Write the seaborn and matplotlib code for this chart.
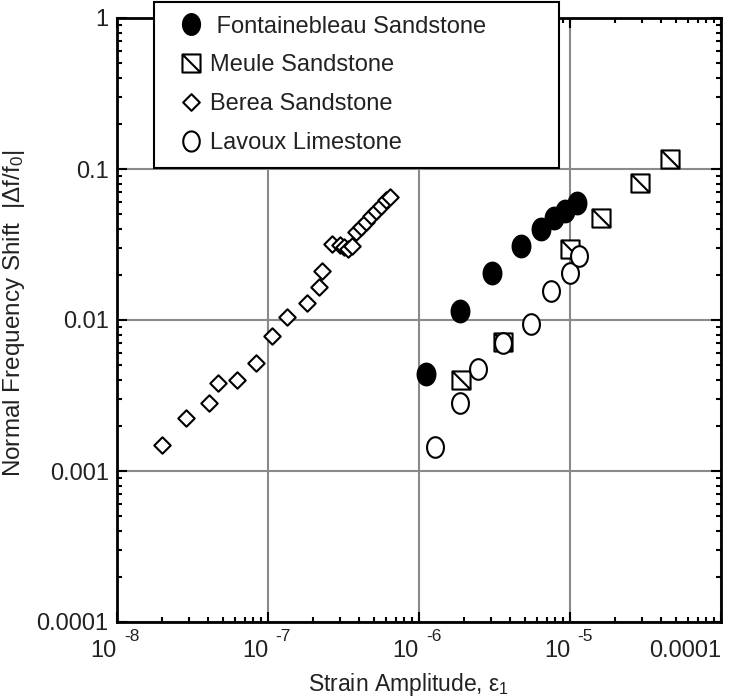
import numpy as np
import pandas as pd
import matplotlib
matplotlib.use("Agg")
import matplotlib.pyplot as plt
from matplotlib.path import Path
from matplotlib.lines import Line2D
from matplotlib.ticker import LogLocator, NullFormatter
import seaborn as sns

# ---------------- data ----------------
berea_x = [2.0e-8, 2.88e-8, 4.06e-8, 4.69e-8, 6.27e-8, 8.3e-8, 1.07e-7, 1.34e-7,
           1.82e-7, 2.18e-7, 2.27e-7, 2.67e-7, 3.0e-7, 3.18e-7, 3.39e-7, 3.6e-7,
           3.83e-7, 4.13e-7, 4.46e-7, 4.81e-7, 5.19e-7, 5.6e-7, 6.04e-7, 6.42e-7]
berea_y = [1.49e-3, 2.25e-3, 2.81e-3, 3.81e-3, 4.01e-3, 5.21e-3, 7.87e-3, 1.04e-2,
           1.30e-2, 1.66e-2, 2.12e-2, 3.17e-2, 3.14e-2, 3.04e-2, 2.95e-2, 3.09e-2,
           3.83e-2, 4.13e-2, 4.46e-2, 4.89e-2, 5.27e-2, 5.69e-2, 6.24e-2, 6.53e-2]

font_x = [1.11e-6, 1.87e-6, 3.06e-6, 4.76e-6, 6.4e-6, 7.84e-6, 9.22e-6, 1.11e-5]
font_y = [4.36e-3, 1.15e-2, 2.04e-2, 3.10e-2, 4.01e-2, 4.72e-2, 5.30e-2, 5.93e-2]

meule_x = [1.89e-6, 3.61e-6, 9.95e-6, 1.61e-5, 2.9e-5, 4.59e-5]
meule_y = [4.01e-3, 7.18e-3, 2.94e-2, 4.75e-2, 8.04e-2, 0.116]

lavoux_x = [1.27e-6, 1.87e-6, 2.47e-6, 3.61e-6, 5.52e-6, 7.45e-6, 1.0e-5, 1.15e-5]
lavoux_y = [1.44e-3, 2.83e-3, 4.71e-3, 7.08e-3, 9.41e-3, 1.56e-2, 2.06e-2, 2.65e-2]

series_names = [" Fontainebleau Sandstone", "Meule Sandstone", "Berea Sandstone", "Lavoux Limestone"]
x_ticks = [1e-8, 1e-7, 1e-6, 1e-5, 1e-4]
x_tick_labels = ["10", "10", "10", "10", "0.0001"]
x_tick_exponents = ["-8", "-7", "-6", "-5", ""]
y_ticks = [1e-4, 1e-3, 1e-2, 1e-1, 1]
y_tick_labels = ["0.0001", "0.001", "0.01", "0.1", "1"]

# ---------------- style ----------------
sns.set_theme(style="white")
plt.rcParams['font.family'] = ['Liberation Sans', 'DejaVu Sans']
plt.rcParams['mathtext.fontset'] = 'custom'
plt.rcParams['mathtext.rm'] = 'Liberation Sans'
plt.rcParams['mathtext.it'] = 'Liberation Sans'
TXT = '#222222'

FS = 17

# marker paths
t = np.linspace(0, 2 * np.pi, 60)
ellipse = Path(np.column_stack([0.82 * np.cos(t), np.sin(t)]), closed=True)
sq_verts = [(-1, -1), (1, -1), (1, 1), (-1, 1), (-1, -1), (-1, 1), (1, -1)]
sq_codes = [Path.MOVETO, Path.LINETO, Path.LINETO, Path.LINETO, Path.CLOSEPOLY,
            Path.MOVETO, Path.LINETO]
square_diag = Path(sq_verts, sq_codes)
diamond = Path([(0, 1), (1, 0), (0, -1), (-1, 0), (0, 1)],
               [Path.MOVETO, Path.LINETO, Path.LINETO, Path.LINETO, Path.CLOSEPOLY])

fig = plt.figure(figsize=(7.38, 6.98), dpi=100)
ax = fig.add_axes([117 / 738, (698 - 622) / 698, 604 / 738, 604 / 698])
ax.set_xscale("log")
ax.set_yscale("log")
ax.set_xlim(1e-8, 1e-4)
ax.set_ylim(1e-4, 1)

ax.grid(True, which="major", color="#8a8a8a", linewidth=1.5, zorder=0)
ax.set_axisbelow(True)

ew = 1.5
sns.scatterplot(x=berea_x, y=berea_y, ax=ax, marker=diamond, s=140,
                facecolor="white", edgecolor="black", linewidth=ew, zorder=3)
sns.scatterplot(x=font_x, y=font_y, ax=ax, marker=ellipse, s=245,
                facecolor="black", edgecolor="black", linewidth=ew, zorder=3)
sns.scatterplot(x=meule_x, y=meule_y, ax=ax, marker=square_diag, s=170,
                facecolor="white", edgecolor="black", linewidth=ew, zorder=3)
sns.scatterplot(x=lavoux_x, y=lavoux_y, ax=ax, marker=ellipse, s=220,
                facecolor="white", edgecolor="black", linewidth=ew, zorder=3)

# ticks
ax.set_xticks(x_ticks)
ax.set_xticklabels(x_tick_labels)
ax.set_yticks(y_ticks)
ax.set_yticklabels(y_tick_labels)
ax.xaxis.set_minor_locator(LogLocator(base=10, subs=np.arange(2, 10), numticks=20))
ax.yaxis.set_minor_locator(LogLocator(base=10, subs=np.arange(2, 10), numticks=20))
ax.xaxis.set_minor_formatter(NullFormatter())
ax.yaxis.set_minor_formatter(NullFormatter())
ax.tick_params(which="both", direction="in", top=True, right=True, bottom=True, left=True,
               color="black", labelsize=FS, labelcolor=TXT)
ax.tick_params(which="major", length=7, width=1.5)
ax.tick_params(axis="y", which="major", pad=6)
ax.tick_params(axis="x", which="major", pad=13)
ax.tick_params(which="minor", length=3.6, width=1.5)
for lab in ax.get_xticklabels():
    lab.set_ha("right")

# exponents next to the "10" bases
for xt, ex in zip(x_ticks, x_tick_exponents):
    if ex:
        ax.annotate(ex, xy=(xt, 0), xycoords=("data", "axes fraction"),
                    xytext=(5.5, -5), textcoords="offset points",
                    ha="left", va="top", fontsize=12.5, color=TXT)

for sp in ax.spines.values():
    sp.set_color("black")
    sp.set_linewidth(2)

ax.set_xlabel(r"Strain Amplitude, ε$_{\mathregular{1}}$", fontsize=16.5, color=TXT)
ax.xaxis.set_label_coords((408.5 - 117) / 604, (622 - 671) / 604)
ax.set_ylabel(r"Normal Frequency Shift  |Δf/f$_{\mathregular{0}}$|", fontsize=17.5, color=TXT)
ax.yaxis.set_label_coords((27 - 117) / 604, (622 - 313) / 604)

# legend
handles = [
    Line2D([], [], linestyle="none", marker=ellipse, markersize=15, markerfacecolor="black",
           markeredgecolor="black", markeredgewidth=ew),
    Line2D([], [], linestyle="none", marker=square_diag, markersize=13, markerfacecolor="white",
           markeredgecolor="black", markeredgewidth=ew),
    Line2D([], [], linestyle="none", marker=diamond, markersize=12, markerfacecolor="white",
           markeredgecolor="black", markeredgewidth=ew),
    Line2D([], [], linestyle="none", marker=ellipse, markersize=14.5, markerfacecolor="white",
           markeredgecolor="black", markeredgewidth=ew),
]
x0 = (154 - 117) / 604
x1 = (559 - 117) / 604
ytop = (622 - 2) / 604
leg = ax.legend(handles, series_names, loc="upper left",
                bbox_to_anchor=(x0, ytop - 0.3, x1 - x0, 0.3), mode="expand",
                borderaxespad=0, fontsize=FS, frameon=True, fancybox=False,
                handlelength=1.95, handletextpad=-0.15, borderpad=0.58,
                labelspacing=0.71)
leg.get_frame().set_edgecolor("black")
leg.get_frame().set_linewidth(1.5)
leg.get_frame().set_facecolor("white")
leg.get_frame().set_alpha(1)
leg.set_zorder(10)
for txt in leg.get_texts():
    txt.set_color(TXT)

fig.savefig("out.png", dpi=100)
